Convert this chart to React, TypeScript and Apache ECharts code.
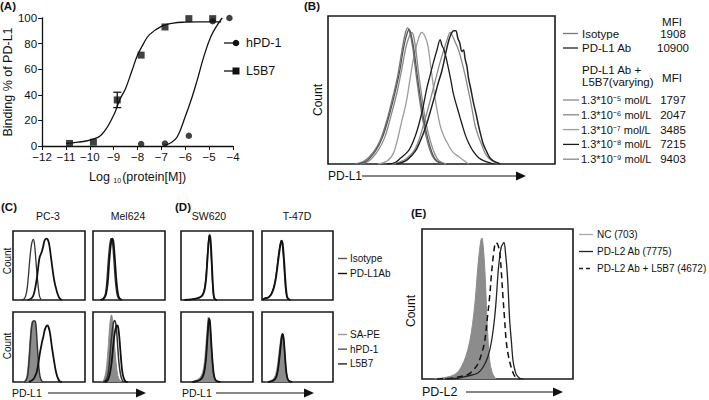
import React, { useEffect, useRef } from 'react';
import * as echarts from 'echarts';

const FONT = '"Liberation Sans", Arial, Helvetica, sans-serif';

// ---------- Panel A: binding curves ----------
const aL5b7X = [-10.85, -9.85, -8.85, -7.85, -6.85, -5.85, -4.85];
const aL5b7Y = [2, 3, 36, 71, 93, 99.5, 99.5];
const aHpd1X = [-7.85, -6.85, -5.85, -4.85, -4.15];
const aHpd1Y = [1.5, 2, 8, 97.5, 100];
const aL5b7Err = [[-8.85, 30, 42]];
const aL5b7FitX = [-11, -10.5, -10, -9.5, -9, -8.75, -8.5, -8.25, -8, -7.75, -7.5, -7, -6.5, -6, -5.5, -5, -4.5];
const aL5b7FitY = [2, 3, 4.5, 9, 24, 36, 45, 58, 71, 80, 87, 93.5, 96, 96.8, 97, 97, 97];
const aHpd1FitX = [-6.9, -6.6, -6.34, -6, -5.71, -5.5, -5.22, -4.94, -4.66, -4.45];
const aHpd1FitY = [0.5, 2.5, 7, 23, 38.5, 51.5, 70, 85, 94.5, 100];

// ---------- Panel B: PD-L1 histograms (x, y in % of box) ----------
const bIsotype = [[12,0],[16,2],[20,8],[23,16],[26,30],[28.5,45],[30.5,58],[32.5,76],[34,88],[35,92],[36,89],[37.2,80],[38.5,64],[40,47],[41.5,32],[43,20],[45,9],[47,3],[50,0]];
const bC5 = [[13,0],[17,2],[21,9],[24,18],[27,33],[29.5,48],[31.5,62],[33.5,80],[35,89],[35.8,91],[36.8,86],[38,76],[39.3,60],[40.8,44],[42.3,29],[44,17],[46,7],[48,2],[51,0]];
const bC6 = [[14,0],[18,2],[22,9],[25,18],[28,34],[30.5,49],[32.5,64],[34.5,80],[36,87],[36.7,89],[37.6,87],[38.8,76],[40,60],[41.5,44],[43,29],[45,16],[47,7],[49,2],[52,0]];
const bC7 = [[22,0],[26,2],[29,8],[32.5,29],[34.5,42],[36.2,58],[37.5,70],[38.7,78],[39.9,85],[41.3,89],[42.8,86],[44,80],[45,69],[46.2,55],[47.2,44],[49.4,26],[51,19],[53,13],[55,8],[57.5,5],[62,0]];
const bC8 = [[26,0],[29.6,1],[32,4],[35.5,9],[38,17],[39.9,26],[41.8,38],[43.5,51],[45,60],[46.5,69],[48,77],[49.4,84],[50.2,80],[50.9,78],[52,72],[53,65],[54.2,56],[55.3,47],[57.5,35],[59,27],[60.4,20],[62,14],[64,8.5],[66.5,4],[69,2],[73,0]];
const bAb = [[30,0],[32.6,1],[35,3],[38.4,8.5],[40.5,15],[42.8,24],[45,35],[47.2,47],[48.6,55],[50,62],[51.2,70],[52.3,78],[53.3,84],[54.3,88],[55.3,90],[56.3,90],[57.2,85],[58,82],[59,76],[59.7,77],[60.4,71],[61.2,66],[61.9,58],[63,50],[64,42],[65.2,34],[66.3,26],[67.4,19],[68.5,13],[70,8],[71.4,4],[73,2],[76,0]];
const bC9 = [[28,0],[31,1],[34,3],[37.7,8.5],[40,16],[42,26],[44,37],[45.7,47],[47.2,56],[48.7,65],[50.2,73],[51.6,80],[52.7,85],[53.8,89],[55,86],[56,82.5],[57,79],[58.2,73.5],[59.3,67],[60.4,60],[61.5,52],[62.6,44],[63.7,35],[64.8,26],[66.2,19],[67.7,13],[69,8],[70.7,4],[73.6,1],[76,0]];
const bLegendNames = ['Isotype', 'PD-L1 Ab'];
const bLegendMfi = ['1908', '10900'];
const bConcNames = ['1.3*10⁻⁵ mol/L', '1.3*10⁻⁶ mol/L', '1.3*10⁻⁷ mol/L', '1.3*10⁻⁸ mol/L', '1.3*10⁻⁹ mol/L'];
const bConcMfi = ['1797', '2047', '3485', '7215', '9403'];

// ---------- Panel C ----------
const cPc3Iso = [[12,0],[16,2],[19,12],[21,30],[23,55],[24.6,72],[26,82],[28,88],[29.5,84],[31,68],[32.5,48],[34,30],[35.5,15],[37,5],[39.5,0]];
const cPc3Ab = [[20,0],[25,2],[28,6],[30,13],[32,24],[34,38],[35.5,52],[37,62],[38.5,66],[40,70],[42,78],[43.5,85],[45,88],[46.5,89],[48,88],[49.5,84],[51,76],[52.5,64],[54,52],[55.5,40],[57,30],[58.5,22],[60,16],[61.5,10],[63,6],[65,2],[68,0]];
const cMelIso = [[10,0],[14,2],[17,8],[19,25],[21,55],[23,78],[24.5,88],[25.5,89],[26.8,85],[28,72],[29.5,50],[31,28],[33,10],[35,3],[38,0]];
const cMelAb = [[11,0],[15,2],[18,8],[20.5,25],[22.5,55],[24.5,78],[26,88],[27,89],[28.3,85],[29.5,72],[31,50],[32.5,28],[34.5,10],[36.5,3],[40,0]];
const cPc3SaPe = [[14,0],[17,2],[19.5,10],[21.5,30],[23,50],[24.5,72],[26,84],[27.5,87],[29.3,87],[30.5,85],[31.5,75],[32.6,55],[34,32],[35.5,15],[37,6],[39,2],[42,0]];
const cPc3Hpd1 = [[15,0],[18,2],[20.5,10],[22.5,32],[24,55],[25.5,75],[27,85],[28.5,87],[30.5,87],[31.8,82],[33,65],[34.5,40],[36,20],[37.5,8],[39.5,2],[42,0]];
const cPc3L5b7 = [[22,0],[26,2],[29,5],[31,9],[32.6,13],[34.5,22],[36,32],[37.5,42],[39,50],[40.5,58],[42,64],[43.5,72],[45,77],[46.5,80],[48,81],[49.5,78],[51,72],[52.5,62],[54,50],[55.8,38],[57.5,27],[59,18],[60.5,11],[62.5,5],[65,1],[68,0]];
const cMelSaPe = [[12,0],[15,3],[18,15],[20,35],[21.5,55],[23,78],[24.5,92],[25.6,96],[26.8,92],[28,80],[29,66],[30.5,45],[32,28],[33.5,15],[35,7],[37,3],[40,0]];
const cMelHpd1 = [[14,0],[18,3],[21,12],[23,30],[25,55],[27,75],[28.5,85],[30,88],[31.5,84],[33,70],[34.5,48],[36,28],[38,12],[40,4],[43,0]];
const cMelL5b7 = [[16,0],[20,2],[23,10],[25.5,25],[27.5,45],[29.5,65],[31.5,77],[33,81],[34.5,80],[36,70],[37.5,52],[39,32],[40.5,16],[42.5,6],[45,1],[48,0]];

// ---------- Panel D ----------
const dSwIso = [[5,0],[15,1],[22,2],[27,4],[30,8],[32.5,16],[34.5,32],[36,55],[37.5,78],[38.8,92],[39.5,94],[40.5,88],[41.5,72],[42.5,50],[43.5,28],[44.5,12],[45.5,4],[47,1],[50,0]];
const dSwAb = [[5,0],[15,1],[22,2.5],[27,4.5],[30.5,8],[33,16],[35,32],[36.5,55],[38,78],[39.3,92],[40,94],[41,88],[42,72],[43,50],[44,28],[45,12],[46,4],[47.5,1],[50,0]];
const dT47Iso = [[1,0],[3,2],[7,3],[10,5],[13,9],[16,17],[18.5,28],[20.5,42],[22.5,60],[24.5,75],[26,83],[27,86],[28.2,83],[29.5,70],[30.8,52],[32,32],[33.2,16],[34.5,6],[36,2],[39,0]];
const dT47Ab = [[1,0],[3,2],[7.5,3],[10.5,5],[13.5,9],[16.5,17],[19,28],[21,42],[23.2,60],[25.2,75],[26.7,83],[27.7,86],[28.9,83],[30.2,70],[31.5,52],[32.7,32],[33.9,16],[35.2,6],[36.7,2],[40,0]];
const dSwSaPe = [[15,0],[20,2],[25,5],[28,9],[30.5,16],[32.5,28],[34,45],[35.5,65],[37,84],[38,93],[39,90],[40,78],[41.5,55],[43,32],[44.5,15],[46,6],[48,2],[52,0]];
const dSwHpd1 = [[15,0],[21,1],[26,3],[29.5,7],[32,15],[34,30],[35.5,50],[37,73],[38.2,88],[39,91],[40,85],[41.2,65],[42.5,42],[44,22],[45.5,9],[47.5,3],[50,1],[54,0]];
const dSwL5b7 = [[15,0],[21.5,1],[26.5,3],[30,7],[32.5,15],[34.5,30],[36,50],[37.5,73],[38.7,88],[39.5,90],[40.5,85],[41.7,65],[43,42],[44.5,22],[46,9],[48,3],[50.5,1],[55,0]];
const dT47SaPe = [[5,0],[10,1],[14,3],[17,6],[19.5,12],[21.5,22],[23.5,38],[25.5,55],[27,66],[28,69],[29.2,65],[30.5,52],[32,35],[33.5,18],[35,8],[37,3],[40,1],[44,0]];
const dT47Hpd1 = [[8,0],[13,1],[17,3],[20,8],[22,17],[24,33],[26,52],[27.5,64],[28.8,69],[30,64],[31.3,48],[32.7,28],[34.2,12],[36,4],[38.5,1],[42,0]];
const dT47L5b7 = [[8,0],[13.5,1],[17.5,3],[20.5,8],[22.5,17],[24.5,33],[26.5,52],[28,64],[29.3,68],[30.5,63],[31.8,48],[33.2,28],[34.7,12],[36.5,4],[39,1],[43,0]];
const dLegendTop = ['Isotype', 'PD-L1Ab'];
const dLegendBottom = ['SA-PE', 'hPD-1', 'L5B7'];

// ---------- Panel E ----------
const eNc = [[8,0],[15,1],[19.4,2],[23,4],[26,8],[29,15],[31.6,25],[33.5,37],[35,50],[36,62],[37,75],[38,85],[38.9,92],[39.7,94],[40.6,88],[41.5,75],[42.3,58],[43,40],[44,22],[44.8,12],[46,6],[47,3],[49,0]];
const eAbL5b7 = [[10,0],[19.4,0.5],[25,1.5],[30.5,3],[34,6],[37,10],[39.5,17],[41.5,25],[43.2,40],[44.8,55],[46,70],[47,80],[48,88],[49,91],[50,90],[51.4,85],[52.5,72],[53.6,55],[54.7,40],[55.8,25],[57.3,15],[59,8],[60.8,3],[62.5,1],[65,0]];
const eAb = [[15,0],[23.8,0.5],[30,2],[37,4],[40.5,8],[43.7,15],[46,25],[48,40],[49.3,55],[50.3,70],[51.5,82],[52.5,88],[53.5,90],[54.3,91],[55.3,84],[56.5,70],[57.3,55],[58,40],[59.2,25],[60.3,12],[61.5,6],[62.5,3],[64.7,0.5],[67,0]];
const eLegend = ['NC (703)', 'PD-L2 Ab (7775)', 'PD-L2 Ab + L5B7 (4672)'];

// grid boxes (index 1..10)
const boxes = [
  { left: 328, top: 16, width: 227, height: 148 }, // B
  { left: 13, top: 231, width: 72, height: 69 },   // C PC-3 top
  { left: 93, top: 231, width: 72, height: 69 },   // C Mel624 top
  { left: 13, top: 312, width: 72, height: 70 },   // C PC-3 bottom
  { left: 93, top: 312, width: 72, height: 70 },   // C Mel624 bottom
  { left: 181, top: 231, width: 72, height: 69 },  // D SW620 top
  { left: 262, top: 231, width: 71, height: 69 },  // D T-47D top
  { left: 181, top: 312, width: 72, height: 70 },  // D SW620 bottom
  { left: 262, top: 312, width: 71, height: 70 },  // D T-47D bottom
  { left: 422, top: 229, width: 151, height: 150 } // E
];

function hist(gi: number, data: any[], color: string, width: number, extra: any = {}) {
  return {
    type: 'line', xAxisIndex: gi, yAxisIndex: gi, data, showSymbol: false, symbol: 'none',
    smooth: 0.35, silent: true,
    lineStyle: { color, width, type: extra.dash ? [6, 4] : 'solid' },
    itemStyle: { color },
    areaStyle: extra.fill ? { color: extra.fill, opacity: 1 } : undefined,
    z: extra.z || 2,
  };
}

function txt(text: string, x: number, y: number, o: any = {}) {
  return {
    type: 'text', x, y, rotation: o.rotation || 0, silent: true,
    style: {
      text, fill: o.color || '#111', fontSize: o.size || 11, fontFamily: FONT,
      fontWeight: o.bold ? 'bold' : 'normal',
      align: o.align || 'left', verticalAlign: 'middle',
    },
  };
}
function ln(x1: number, y1: number, x2: number, y2: number, color = '#111', w = 1.2, dash?: number[]) {
  return { type: 'line', silent: true, shape: { x1, y1, x2, y2 }, style: { stroke: color, lineWidth: w, lineDash: dash } };
}
function arrow(x1: number, x2: number, y: number) {
  return [
    ln(x1, y, x2 - 6, y, '#111', 1.2),
    { type: 'polygon', silent: true, shape: { points: [[x2 - 10, y - 4.5], [x2, y], [x2 - 10, y + 4.5]] }, style: { fill: '#111' } },
  ];
}

export default function App() {
  const ref = useRef<HTMLDivElement>(null);
  useEffect(() => {
    if (!ref.current) return;
    const chart = echarts.init(ref.current, undefined, { renderer: 'svg' });
    const minus = (v: number) => (v < 0 ? '\u2212' + Math.abs(v) : String(v));

    const grids: any[] = [{ left: 42, top: 18, width: 191, height: 128 }];
    boxes.forEach((b) => grids.push({ ...b, show: true, borderColor: '#1a1a1a', borderWidth: 1.6, backgroundColor: 'transparent' }));

    const xAxes: any[] = [{
      type: 'value', gridIndex: 0, min: -12, max: -4, interval: 1,
      axisLine: { lineStyle: { color: '#111', width: 1.3 } },
      axisTick: { length: 4, lineStyle: { color: '#111' } },
      axisLabel: { formatter: minus, color: '#111', fontSize: 11.5, fontFamily: FONT, margin: 5 },
      splitLine: { show: false },
      name: '{a|Log }{s|10}{a|(protein[M])}', nameLocation: 'middle', nameGap: 23,
      nameTextStyle: { rich: { a: { fontSize: 12.5, fontFamily: FONT, color: '#111' }, s: { fontSize: 7, fontFamily: FONT, color: '#111', padding: [8, 1, 0, 0] } } },
    }];
    const yAxes: any[] = [{
      type: 'value', gridIndex: 0, min: 0, max: 100, interval: 20,
      axisLine: { show: true, lineStyle: { color: '#111', width: 1.3 } },
      axisTick: { show: true, length: 4, lineStyle: { color: '#111' } },
      axisLabel: { color: '#111', fontSize: 11.5, fontFamily: FONT, margin: 5 },
      splitLine: { show: false },
      name: 'Binding % of PD-L1', nameLocation: 'middle', nameGap: 28, nameRotate: 90,
      nameTextStyle: { fontSize: 12.5, fontFamily: FONT, color: '#111' },
    }];
    boxes.forEach((_, i) => {
      xAxes.push({ type: 'value', gridIndex: i + 1, min: 0, max: 100, show: false, splitLine: { show: false } });
      yAxes.push({ type: 'value', gridIndex: i + 1, min: 0, max: 100, show: false, splitLine: { show: false } });
    });

    const series: any[] = [
      { type: 'line', name: 'L5B7 fit', xAxisIndex: 0, yAxisIndex: 0, data: aL5b7FitX.map((x, i) => [x, aL5b7FitY[i]]), smooth: 0.4, showSymbol: false, symbol: 'none', lineStyle: { color: '#111', width: 1.3 }, silent: true },
      { type: 'line', name: 'hPD-1 fit', xAxisIndex: 0, yAxisIndex: 0, data: aHpd1FitX.map((x, i) => [x, aHpd1FitY[i]]), smooth: 0.4, showSymbol: false, symbol: 'none', lineStyle: { color: '#111', width: 1.3 }, silent: true },
      { type: 'scatter', name: 'L5B7', xAxisIndex: 0, yAxisIndex: 0, data: aL5b7X.map((x, i) => [x, aL5b7Y[i]]), symbol: 'rect', symbolSize: 7, itemStyle: { color: '#111' }, z: 4 },
      { type: 'scatter', name: 'hPD-1', xAxisIndex: 0, yAxisIndex: 0, data: aHpd1X.map((x, i) => [x, aHpd1Y[i]]), symbol: 'circle', symbolSize: 6.5, itemStyle: { color: '#111' }, z: 4 },
      {
        type: 'custom', name: 'err', xAxisIndex: 0, yAxisIndex: 0, data: aL5b7Err, encode: { x: 0, y: [1, 2] }, z: 5,
        renderItem: (_p: any, api: any) => {
          const x = api.value(0);
          const a = api.coord([x, api.value(1)]);
          const b = api.coord([x, api.value(2)]);
          const st = { stroke: '#111', lineWidth: 1.3 };
          return { type: 'group', children: [
            { type: 'line', shape: { x1: a[0], y1: a[1], x2: b[0], y2: b[1] }, style: st },
            { type: 'line', shape: { x1: a[0] - 4, y1: a[1], x2: a[0] + 4, y2: a[1] }, style: st },
            { type: 'line', shape: { x1: b[0] - 4, y1: b[1], x2: b[0] + 4, y2: b[1] }, style: st },
          ] };
        },
      },
      // B
      hist(1, bC7, '#9c9c9c', 1.3),
      hist(1, bC6, '#8a8a8a', 1.3),
      hist(1, bIsotype, '#777', 1.3),
      hist(1, bC9, '#888', 1.3),
      hist(1, bC5, '#555', 1.3),
      hist(1, bC8, '#1a1a1a', 1.3),
      hist(1, bAb, '#222', 1.5),
      // C
      hist(2, cPc3Iso, '#333', 1.3),
      hist(2, cPc3Ab, '#111', 1.8),
      hist(3, cMelIso, '#333', 1.3),
      hist(3, cMelAb, '#111', 1.8),
      hist(4, cPc3SaPe, '#8c8c8c', 1, { fill: '#8c8c8c' }),
      hist(4, cPc3Hpd1, '#333', 1.5),
      hist(4, cPc3L5b7, '#111', 1.8),
      hist(5, cMelSaPe, '#8c8c8c', 1, { fill: '#8c8c8c' }),
      hist(5, cMelHpd1, '#333', 1.5),
      hist(5, cMelL5b7, '#111', 1.8),
      // D
      hist(6, dSwIso, '#333', 1.3),
      hist(6, dSwAb, '#111', 1.8),
      hist(7, dT47Iso, '#333', 1.3),
      hist(7, dT47Ab, '#111', 1.8),
      hist(8, dSwSaPe, '#8c8c8c', 1, { fill: '#8c8c8c' }),
      hist(8, dSwHpd1, '#333', 1.4),
      hist(8, dSwL5b7, '#111', 1.6),
      hist(9, dT47SaPe, '#8c8c8c', 1, { fill: '#8c8c8c' }),
      hist(9, dT47Hpd1, '#333', 1.4),
      hist(9, dT47L5b7, '#111', 1.6),
      // E
      hist(10, eNc, '#8c8c8c', 1, { fill: '#8c8c8c' }),
      hist(10, eAbL5b7, '#111', 1.5, { dash: true }),
      hist(10, eAb, '#222', 1.3),
    ];

    const g: any[] = [];
    // panel labels
    g.push(txt('(A)', 0, 6, { bold: true, size: 11.5 }));
    g.push(txt('(B)', 304, 6, { bold: true, size: 11.5 }));
    g.push(txt('(C)', 1, 207, { bold: true, size: 11.5 }));
    g.push(txt('(D)', 175, 207, { bold: true, size: 11.5 }));
    g.push(txt('(E)', 411, 213, { bold: true, size: 11.5 }));

    // A legend
    g.push(ln(224, 43, 235, 43, '#111', 1.3));
    g.push({ type: 'circle', silent: true, shape: { cx: 236, cy: 43, r: 3.3 }, style: { fill: '#111' } });
    g.push(txt('hPD-1', 246, 43, { size: 12.5 }));
    g.push(ln(224, 71, 235, 71, '#111', 1.3));
    g.push({ type: 'rect', silent: true, shape: { x: 232.5, y: 67.5, width: 7, height: 7 }, style: { fill: '#111' } });
    g.push(txt('L5B7', 246, 71, { size: 12.5 }));

    // B texts
    g.push(txt('Count', 318, 100, { rotation: Math.PI / 2, align: 'center', size: 12 }));
    g.push(txt('PD-L1', 328, 176, { size: 12 }));
    g.push(...arrow(362, 526, 176));
    g.push(txt('MFI', 672, 21.5, { align: 'center', size: 11.5 }));
    const bLegendColors = ['#777', '#222'];
    bLegendNames.forEach((n, i) => {
      const y = 33.5 + i * 14.5;
      g.push(ln(563, y, 578, y, bLegendColors[i], 1.3));
      g.push(txt(n, 582, y, { size: 11.5 }));
      g.push(txt(bLegendMfi[i], 673, y, { align: 'center', size: 11.5 }));
    });
    g.push(txt('PD-L1 Ab +', 582, 69.5, { size: 11.5 }));
    g.push(txt('L5B7(varying)', 582, 82, { size: 11.5 }));
    g.push(txt('MFI', 672, 77.5, { align: 'center', size: 11.5 }));
    const bConcColors = ['#888', '#888', '#9c9c9c', '#1a1a1a', '#888'];
    bConcNames.forEach((n, i) => {
      const y = 100 + i * 14.8;
      g.push(ln(563, y, 579, y, bConcColors[i], 1.3));
      g.push(txt(n, 581, y, { size: 11 }));
      g.push(txt(bConcMfi[i], 673, y, { align: 'center', size: 11.5 }));
    });

    // C texts
    g.push(txt('PC-3', 48, 216, { align: 'center', size: 10.5 }));
    g.push(txt('Mel624', 128, 216, { align: 'center', size: 10.5 }));
    g.push(txt('Count', 7, 261, { rotation: Math.PI / 2, align: 'center', size: 10 }));
    g.push(txt('Count', 7, 346, { rotation: Math.PI / 2, align: 'center', size: 10 }));
    g.push(txt('PD-L1', 12, 393, { size: 10.5 }));
    g.push(...arrow(48, 146, 393));

    // D texts
    g.push(txt('SW620', 209, 216, { align: 'center', size: 10.5 }));
    g.push(txt('T-47D', 297, 216, { align: 'center', size: 10.5 }));
    g.push(txt('PD-L1', 182, 393, { size: 10.5 }));
    g.push(...arrow(216, 314, 393));
    const dTopColors = ['#555', '#111'];
    dLegendTop.forEach((n, i) => {
      const y = 258.5 + i * 15;
      g.push(ln(338, y, 347, y, dTopColors[i], 1.4));
      g.push(txt(n, 350, y, { size: 10 }));
    });
    const dBotColors = ['#999', '#555', '#222'];
    dLegendBottom.forEach((n, i) => {
      const y = 334.5 + i * 14.7;
      g.push(ln(338, y, 347, y, dBotColors[i], 1.4));
      g.push(txt(n, 350, y, { size: 10 }));
    });

    // E texts
    g.push(txt('Count', 411, 311, { rotation: Math.PI / 2, align: 'center', size: 12 }));
    g.push(txt('PD-L2', 422, 392, { size: 12.5 }));
    g.push(...arrow(466, 563, 392));
    const eColors = ['#aaa', '#222', '#222'];
    eLegend.forEach((n, i) => {
      const y = 234.5 + i * 17;
      g.push(ln(579, y, 593, y, eColors[i], 1.3, i === 2 ? [4, 3] : undefined));
      g.push(txt(n, 597, y, { size: 10 }));
    });

    chart.setOption({
      animation: false,
      backgroundColor: '#fff',
      grid: grids,
      xAxis: xAxes,
      yAxis: yAxes,
      series,
      graphic: g,
    });
    return () => chart.dispose();
  }, []);
  return <div ref={ref} style={{ position: 'fixed', left: 0, top: 0, width: 709, height: 400 }} />;
}
